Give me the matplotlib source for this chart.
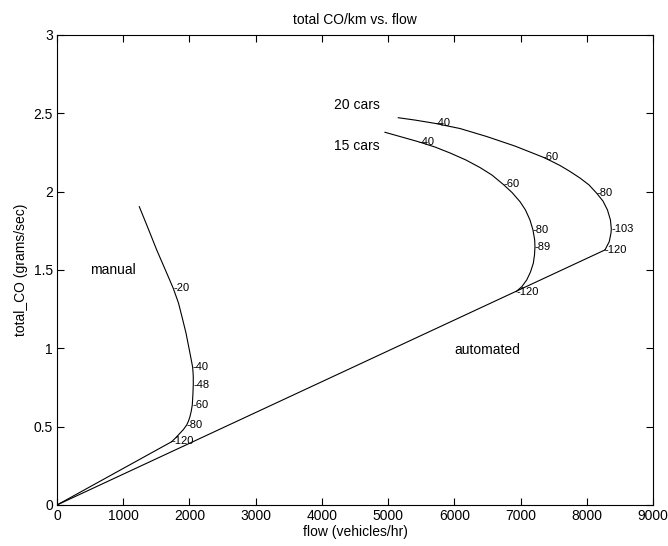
import matplotlib
matplotlib.use("Agg")
import matplotlib.pyplot as plt

plt.rcParams['font.family'] = ['Liberation Sans', 'DejaVu Sans']

# Curves (flow in vehicles/hr, total CO in grams/sec)
manual_flow = [1243, 1374, 1506, 1631, 1756, 1835, 1892, 1948, 1993, 2028, 2049, 2058, 2058,
               2052, 2043, 2028, 2008, 1986, 1959, 1910, 1857, 1797, 1732]
manual_co = [1.904, 1.768, 1.628, 1.506, 1.383, 1.289, 1.194, 1.098, 1.002, 0.926, 0.879, 0.823, 0.766,
             0.702, 0.638, 0.600, 0.564, 0.536, 0.511, 0.482, 0.458, 0.431, 0.404]

cars15_flow = [4953, 5180, 5456, 5708, 5935, 6176, 6388, 6569, 6740, 6871, 6992, 7075, 7143, 7188,
               7214, 7218, 7211, 7193, 7150, 7093, 7022, 6935]
cars15_co = [2.379, 2.352, 2.319, 2.285, 2.247, 2.202, 2.154, 2.106, 2.046, 1.995, 1.936, 1.883, 1.819, 1.755,
             1.691, 1.645, 1.596, 1.543, 1.487, 1.436, 1.395, 1.362]

cars20_flow = [5154, 5406, 5708, 6086, 6489, 6916, 7335, 7460, 7596, 7747, 7898, 8034, 8150, 8245, 8313,
               8358, 8371, 8366, 8340, 8275]
cars20_co = [2.472, 2.457, 2.436, 2.403, 2.352, 2.291, 2.221, 2.196, 2.167, 2.129, 2.087, 2.043, 1.990, 1.940,
             1.883, 1.819, 1.762, 1.736, 1.681, 1.628]

# Straight lines from the origin
manual_line_flow = [0, 1732]
manual_line_co = [0, 0.404]
auto_line_flow = [0, 8275]
auto_line_co = [0, 1.628]

# Speed labels (km/h) along each curve
manual_speeds = ['20', '40', '48', '60', '80', '120']
manual_sp_flow = [1756, 2049, 2058, 2043, 1959, 1732]
manual_sp_co = [1.383, 0.879, 0.766, 0.638, 0.511, 0.410]

cars15_speeds = ['40', '60', '80', '89', '120']
cars15_sp_flow = [5456, 6740, 7188, 7218, 6935]
cars15_sp_co = [2.319, 2.046, 1.755, 1.645, 1.362]

cars20_speeds = ['40', '60', '80', '103', '120']
cars20_sp_flow = [5708, 7335, 8150, 8371, 8275]
cars20_sp_co = [2.436, 2.221, 1.990, 1.762, 1.628]

x_ticks = [0, 1000, 2000, 3000, 4000, 5000, 6000, 7000, 8000, 9000]
y_ticks = [0, 0.5, 1, 1.5, 2, 2.5, 3]
y_tick_labels = ['0', '0.5', '1', '1.5', '2', '2.5', '3']

fig = plt.figure(figsize=(6.68, 5.46), dpi=100)
ax = fig.add_axes([0.0853, 0.0751, 0.8922, 0.8608])

lw = 0.8
for fx, fy in [(manual_flow, manual_co), (cars15_flow, cars15_co), (cars20_flow, cars20_co),
               (manual_line_flow, manual_line_co), (auto_line_flow, auto_line_co)]:
    ax.plot(fx, fy, color='black', linewidth=lw, solid_joinstyle='round')

for labels, fx, fy in [(manual_speeds, manual_sp_flow, manual_sp_co),
                       (cars15_speeds, cars15_sp_flow, cars15_sp_co),
                       (cars20_speeds, cars20_sp_flow, cars20_sp_co)]:
    for s, x, y in zip(labels, fx, fy):
        ax.text(x, y, '-' + s, ha='left', va='center', fontsize=8)

ax.text(498, 1.50, 'manual', ha='left', va='center', fontsize=10)
ax.text(4183, 2.553, '20 cars', ha='left', va='center', fontsize=10)
ax.text(4183, 2.29, '15 cars', ha='left', va='center', fontsize=10)
ax.text(5995, 0.99, 'automated', ha='left', va='center', fontsize=10)

ax.set_xlim(0, 9000)
ax.set_ylim(0, 3)
ax.set_xticks(x_ticks)
ax.set_yticks(y_ticks)
ax.set_yticklabels(y_tick_labels)
ax.tick_params(direction='in', top=True, right=True, length=5, width=0.8, labelsize=10, pad=3)
for sp in ax.spines.values():
    sp.set_linewidth(0.8)

ax.set_title('total CO/km vs. flow', fontsize=10, pad=8)
ax.set_xlabel('flow (vehicles/hr)', fontsize=10, labelpad=1)
ax.set_ylabel('total_CO (grams/sec)', fontsize=10, labelpad=4)

fig.savefig('out.png', dpi=100)
